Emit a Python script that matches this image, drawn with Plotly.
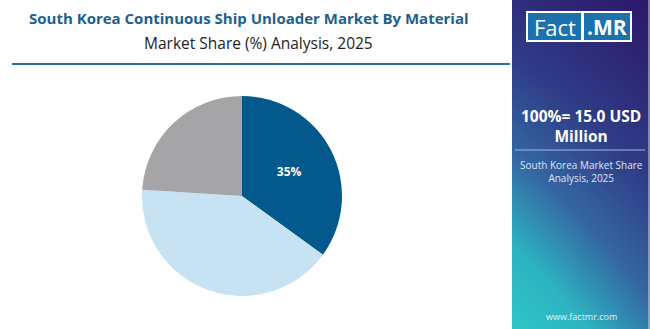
import plotly.graph_objects as go

W, H = 650, 329

# Data
categories = ["Steel", "Aluminum", "Others"]
shares = [35, 41, 24]
slice_labels = ["35%", "", ""]
slice_colors = ["#03588c", "#c6e2f3", "#a5a5a8"]

title_text = "South Korea Continuous Ship Unloader Market By Material"
subtitle_text = "Market Share (%) Analysis, 2025"
total_text = "100%= 15.0 USD<br>Million"
panel_sub = "South Korea Market Share<br>Analysis, 2025"


def px(x):
    return x / W


def py(y):
    return 1 - y / H


fig = go.Figure()

# gradient side panel (heatmap on its own axes)
fig.add_trace(go.Heatmap(
    z=[[0.0, 0.36], [0.78, 1.0]], x=[0, 1], y=[0, 1],
    zsmooth="best", showscale=False, hoverinfo="skip",
    colorscale=[[0.0, "#2cc6c7"], [0.2, "#2db3c1"], [0.42, "#3466a2"],
                [0.65, "#2f3c86"], [1.0, "#2c176a"]],
    zmin=0, zmax=1, xaxis="x", yaxis="y",
))

fig.add_trace(go.Pie(
    labels=categories, values=shares, text=slice_labels,
    textinfo="text", textposition="inside", insidetextorientation="horizontal",
    textfont=dict(family="Open Sans", size=12, color="white", weight="bold"),
    marker=dict(colors=slice_colors, line=dict(width=0)),
    sort=False, direction="clockwise", rotation=0,
    domain=dict(x=[px(142), px(342)], y=[py(296), py(96)]),
    showlegend=False, hoverinfo="label+percent",
))

shapes = [
    # title underline
    dict(type="line", xref="paper", yref="paper", x0=px(12), x1=px(510), y0=py(64), y1=py(64),
         line=dict(color="#2b6f9e", width=2)),
    # logo
    dict(type="rect", xref="paper", yref="paper", x0=px(526), x1=px(632), y0=py(42), y1=py(11),
         fillcolor="white", line=dict(width=0)),
    dict(type="rect", xref="paper", yref="paper", x0=px(528), x1=px(581), y0=py(40), y1=py(13),
         fillcolor="#1c72ad", line=dict(width=0)),
    dict(type="rect", xref="paper", yref="paper", x0=px(584), x1=px(630), y0=py(40), y1=py(13),
         fillcolor="#1c72ad", line=dict(width=0)),
    # panel divider
    dict(type="line", xref="paper", yref="paper", x0=px(515), x1=px(645), y0=py(150), y1=py(150),
         line=dict(color="#a9b6e0", width=1)),
    # thin light right edge
    dict(type="line", xref="paper", yref="paper", x0=px(649), x1=px(649), y0=0, y1=1,
         line=dict(color="#d8dce8", width=1)),
]


def ann(text, x, y, size, color, family="Open Sans"):
    return dict(text=text, x=px(x), y=py(y), xref="paper", yref="paper",
                xanchor="center", yanchor="middle", showarrow=False,
                font=dict(family=family, size=size, color=color))


annotations = [
    ann(f"<b>{title_text}</b>", 249, 18, 15, "#1d5f8e"),
    ann(subtitle_text, 258, 43, 15.5, "#222222"),
    ann("Fact", 554.5, 26.5, 22, "white"),
    ann("<b>.MR</b>", 607, 26.5, 21, "white"),
    ann(f"<b>{total_text}</b>", 581, 126, 15.5, "white"),
    ann(panel_sub, 581, 171, 10, "#dfe4f5"),
    ann("www.factmr.com", 581, 316, 9, "#e0f0f5"),
]

fig.update_layout(
    width=W, height=H, margin=dict(l=0, r=0, t=0, b=0),
    paper_bgcolor="white", plot_bgcolor="white",
    xaxis=dict(domain=[px(512), 1], range=[0, 1], visible=False, fixedrange=True),
    yaxis=dict(domain=[0, 1], range=[0, 1], visible=False, fixedrange=True),
    shapes=shapes, annotations=annotations,
)

fig.write_html("out.html")
